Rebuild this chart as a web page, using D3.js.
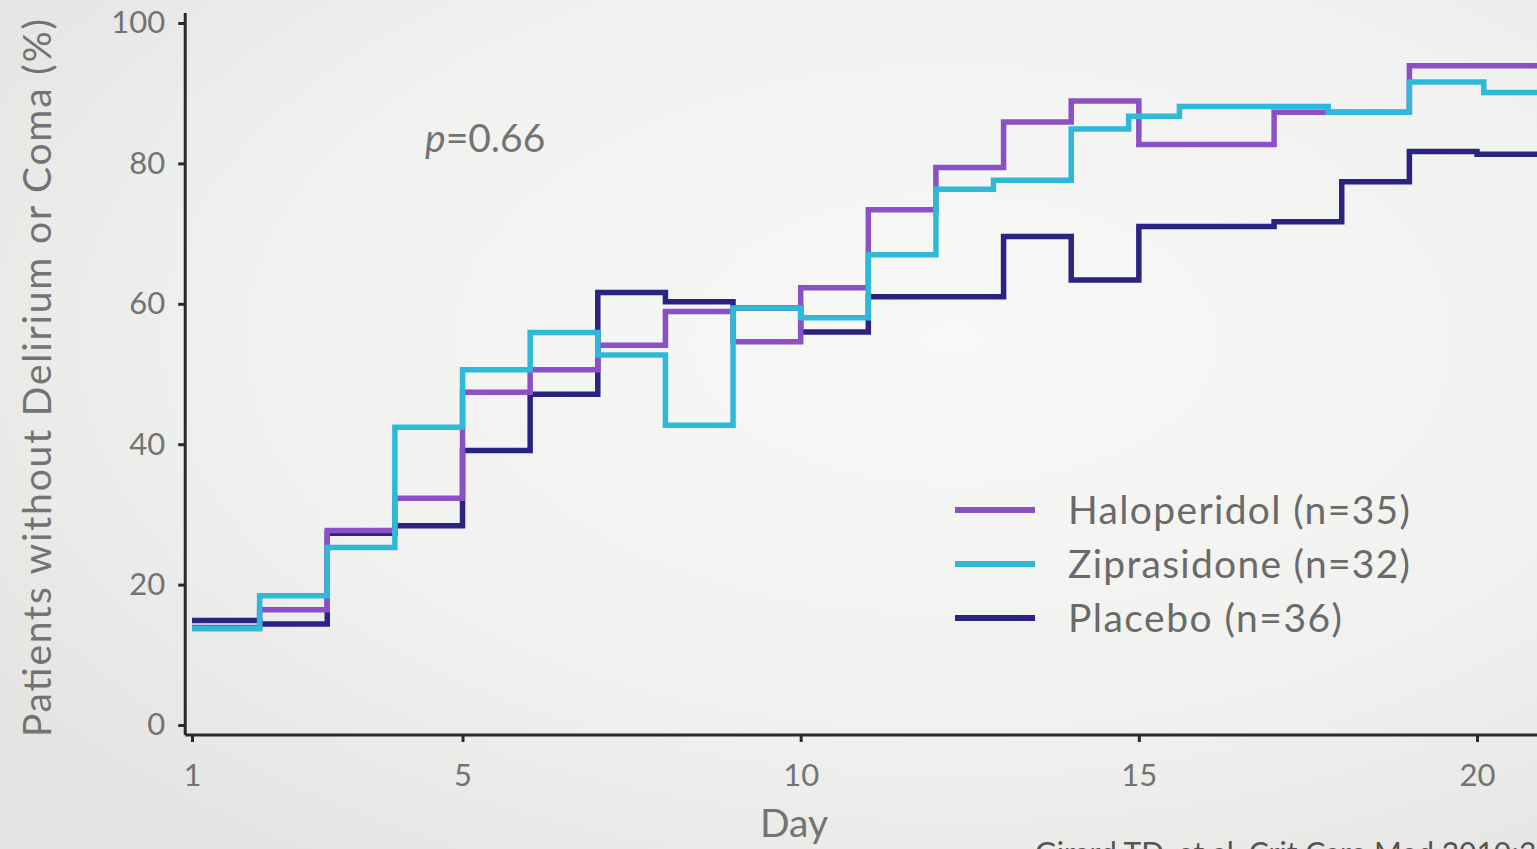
<!DOCTYPE html>
<html>
<head>
<meta charset="utf-8">
<script src="https://cdn.jsdelivr.net/npm/d3@7"></script>
<style>
  html, body { margin: 0; padding: 0; overflow: hidden; background: #eeeeec; }
  svg { display: block; font-family: Lato, "Open Sans", sans-serif; }
</style>
</head>
<body>
<div id="chart"></div>
<script>
// step data: [day, % patients without delirium or coma]
const haloperidol = [
  [1, 13.9], [2, 16.4], [3, 27.7], [4, 32.3], [5, 47.4], [6, 50.6], [7, 54.1],
  [8, 58.9], [9, 54.6], [10, 62.3], [11, 73.4], [12, 79.4], [13, 85.9], [14, 88.9],
  [15, 82.7], [17, 87.3], [19, 93.9]
];
const ziprasidone = [
  [1, 13.7], [2, 18.4], [3, 25.3], [4, 42.4], [5, 50.6], [6, 55.9], [7, 52.7],
  [8, 42.7], [9, 59.4], [10, 58.0], [11, 67.0], [12, 76.3], [12.85, 77.6], [14, 84.9],
  [14.85, 86.7], [15.6, 88.1], [17.8, 87.3], [19, 91.6], [20.1, 90.1]
];
const placebo = [
  [1, 14.9], [2, 14.4], [3, 27.3], [4, 28.4], [5, 39.1], [6, 47.1], [7, 61.6],
  [8, 60.3], [9, 59.4], [10, 56.0], [11, 61.0], [13, 69.6], [14, 63.4], [15, 71.0],
  [17, 71.7], [18, 77.4], [19, 81.7], [20, 81.3]
];
const lastDay = 21;

const seriesNames = ["Haloperidol (n=35)", "Ziprasidone (n=32)", "Placebo (n=36)"];
const seriesColors = ["#8b50c6", "#2fb9d9", "#2a2384"];
const xTicks = [1, 5, 10, 15, 20];
const yTicks = [0, 20, 40, 60, 80, 100];

function drawChart() {
    const W = 1537, H = 849;
    const svg = d3.select("#chart").append("svg")
                  .attr("width", W)
                  .attr("height", H);

    // photo-like background
    const defs = svg.append("defs");
    const grad = defs.append("radialGradient")
                     .attr("id", "bg").attr("cx", "62%").attr("cy", "40%").attr("r", "75%");
    grad.append("stop").attr("offset", "0%").attr("stop-color", "#f8f8f6");
    grad.append("stop").attr("offset", "60%").attr("stop-color", "#f1f1ef");
    grad.append("stop").attr("offset", "100%").attr("stop-color", "#e4e5e2");
    svg.append("rect").attr("width", W).attr("height", H).attr("fill", "url(#bg)");

    const perDay = (1477 - 192) / 19;
    const x = d3.scaleLinear().domain([1, 20]).range([192, 192 + 19 * perDay]);
    const y = d3.scaleLinear().domain([0, 100]).range([725, 23]);

    const axisX = x(0.9), axisY = 735;
    const textCol = "#737373";

    // y axis
    const gy = svg.append("g")
                  .attr("transform", `translate(${axisX},0)`)
                  .call(d3.axisLeft(y).tickValues(yTicks).tickSize(7).tickPadding(13).tickSizeOuter(0));
    gy.select(".domain").remove();
    gy.selectAll(".tick line").attr("stroke", "#2a2a2a").attr("stroke-width", 3);
    gy.selectAll(".tick text").attr("fill", textCol).attr("font-size", 31)
      .attr("font-family", "Lato, sans-serif");
    svg.append("line")
       .attr("x1", axisX).attr("x2", axisX)
       .attr("y1", 13).attr("y2", axisY)
       .attr("stroke", "#2a2a2a").attr("stroke-width", 3);

    // x axis
    const gx = svg.append("g")
                  .attr("transform", `translate(0,${axisY})`)
                  .call(d3.axisBottom(x).tickValues(xTicks).tickSize(7).tickPadding(22).tickSizeOuter(0));
    gx.select(".domain").remove();
    gx.selectAll(".tick line").attr("stroke", "#2a2a2a").attr("stroke-width", 3);
    gx.selectAll(".tick text").attr("fill", textCol).attr("font-size", 31)
      .attr("font-family", "Lato, sans-serif");
    svg.append("line")
       .attr("x1", axisX).attr("x2", W)
       .attr("y1", axisY).attr("y2", axisY)
       .attr("stroke", "#2a2a2a").attr("stroke-width", 3);

    // axis titles
    svg.append("text")
       .attr("transform", `translate(51,${(18 + 738) / 2}) rotate(-90)`)
       .attr("text-anchor", "middle")
       .attr("fill", textCol)
       .attr("font-size", 39)
       .attr("textLength", 718)
       .attr("lengthAdjust", "spacing")
       .text("Patients without Delirium or Coma (%)");

    svg.append("text")
       .attr("x", 794).attr("y", 837)
       .attr("text-anchor", "middle")
       .attr("fill", textCol)
       .attr("font-size", 39)
       .text("Day");

    // p value
    const pt = svg.append("text")
                  .attr("x", 425).attr("y", 152)
                  .attr("fill", textCol)
                  .attr("font-size", 39);
    pt.append("tspan").attr("font-style", "italic").text("p");
    pt.append("tspan").text("=0.66");

    // step lines (placebo underneath, ziprasidone on top)
    const line = d3.line()
                   .x(d => x(d[0]))
                   .y(d => y(d[1]))
                   .curve(d3.curveStepAfter);
    const all = [haloperidol, ziprasidone, placebo];
    [2, 0, 1].forEach(i => {
        const pts = all[i].concat([[lastDay, all[i][all[i].length - 1][1]]]);
        svg.append("path")
           .datum(pts)
           .attr("fill", "none")
           .attr("stroke", seriesColors[i])
           .attr("stroke-width", 5.5)
           .attr("stroke-linejoin", "miter")
           .attr("d", line);
    });

    // legend
    const legendWidths = [342, 342, 274];
    const lg = svg.append("g");
    seriesNames.forEach((name, i) => {
        const ly = 510 + i * 54;
        lg.append("line")
          .attr("x1", 955).attr("x2", 1035)
          .attr("y1", ly).attr("y2", ly)
          .attr("stroke", seriesColors[i])
          .attr("stroke-width", 6);
        lg.append("text")
          .attr("x", 1068).attr("y", ly + 14)
          .attr("fill", "#6a6a6a")
          .attr("font-size", 39)
          .attr("textLength", legendWidths[i])
          .attr("lengthAdjust", "spacing")
          .text(name);
    });

    // source, cut off at the bottom edge as in the photo
    svg.append("text")
       .attr("x", 1035).attr("y", 864)
       .attr("fill", "#555")
       .attr("font-size", 30)
       .text("Girard TD, et al. Crit Care Med 2010;38:428-437");
}

drawChart();
</script>
</body>
</html>
